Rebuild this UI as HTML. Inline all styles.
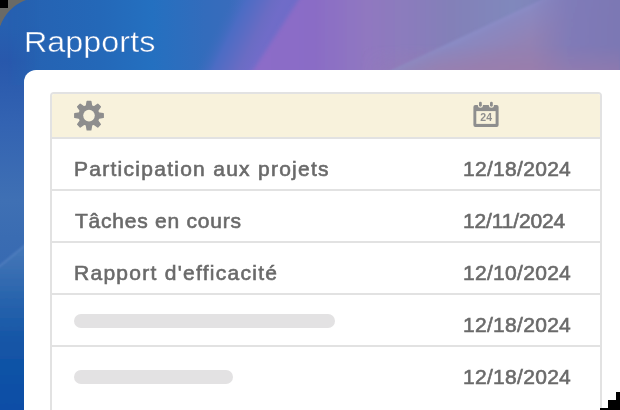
<!DOCTYPE html>
<html><head><meta charset="utf-8">
<style>
html,body{margin:0;padding:0;width:620px;height:410px;overflow:hidden;background:#6a6a66;position:relative;font-family:"Liberation Sans",sans-serif;}
#blk{position:absolute;left:0;top:0;width:8px;height:8px;background:#000;}
#title{position:absolute;left:24px;top:25.5px;color:#fff;-webkit-text-stroke:0.5px rgba(40,100,180,0.85);font-size:29.5px;line-height:32px;letter-spacing:0px;white-space:nowrap;transform:scaleX(1.097);transform-origin:0 0;}
#card{position:absolute;left:24px;top:70px;width:700px;height:400px;background:#fff;border-radius:12px;}
#tbl{position:absolute;left:50px;top:92px;width:548px;height:400px;border:2px solid #e2e2e2;border-radius:4px;background:#fff;}
#hdr{position:absolute;left:0;top:0;width:548px;height:43px;background:#f8f2dc;border-bottom:2px solid #e2e2e2;border-radius:2px 2px 0 0;}
.row{position:absolute;left:0;width:548px;height:50px;border-bottom:2px solid #e2e2e2;}
.txt{position:absolute;left:22px;top:18px;font-size:21px;font-weight:normal;-webkit-text-stroke:0.6px #6a6a6a;color:#6a6a6a;line-height:24px;letter-spacing:0.6px;white-space:nowrap;will-change:transform;}
.date{position:absolute;left:411px;top:18px;font-size:21px;font-weight:normal;-webkit-text-stroke:0.6px #6a6a6a;color:#6a6a6a;line-height:24px;letter-spacing:0.3px;white-space:nowrap;will-change:transform;}
.bar{position:absolute;left:22px;top:19px;height:14px;border-radius:7px;background:#e3e2e3;}
#stairs{position:absolute;left:0;top:0;}
</style></head><body>
<div id="blk"></div>
<svg id="bg" width="620" height="410" style="position:absolute;left:0;top:0">
<defs>
 <clipPath id="cp"><path d="M26 0H620V410H0V27A45 45 0 0 1 26 0Z"/></clipPath>
 <filter id="bl" x="-10%" y="-10%" width="120%" height="120%"><feGaussianBlur stdDeviation="2"/></filter>
 <filter id="bl2" x="-10%" y="-10%" width="120%" height="120%"><feGaussianBlur stdDeviation="0.8"/></filter>
 <linearGradient id="g1" gradientUnits="userSpaceOnUse" x1="0" y1="0" x2="620" y2="0">
  <stop offset="0" stop-color="#2660b0"/>
  <stop offset="0.16" stop-color="#2468b8"/>
  <stop offset="0.245" stop-color="#2470c0"/>
  <stop offset="0.33" stop-color="#336cbc"/>
  <stop offset="0.37" stop-color="#386cbc"/>
  <stop offset="0.5" stop-color="#6c70c8"/>
  <stop offset="1" stop-color="#6c70c8"/>
 </linearGradient>
 <linearGradient id="gA" gradientUnits="userSpaceOnUse" x1="184.1" y1="90.2" x2="238" y2="116.6">
  <stop offset="0" stop-color="#386cbc" stop-opacity="0"/>
  <stop offset="0.283" stop-color="#4c6cc4"/>
  <stop offset="0.467" stop-color="#5a6cc4"/>
  <stop offset="0.667" stop-color="#6a6cc4"/>
  <stop offset="0.833" stop-color="#706cc8"/>
  <stop offset="1" stop-color="#6e6cc8"/>
 </linearGradient>
 <linearGradient id="g2" gradientUnits="userSpaceOnUse" x1="260" y1="0" x2="620" y2="0">
  <stop offset="0" stop-color="#8c6cc8"/>
  <stop offset="0.15" stop-color="#8a6cc6"/>
  <stop offset="0.3" stop-color="#9078c0"/>
  <stop offset="0.42" stop-color="#8a7cbc"/>
  <stop offset="0.53" stop-color="#8380b8"/>
  <stop offset="0.7" stop-color="#8088bc"/>
  <stop offset="1" stop-color="#7e7ab8"/>
 </linearGradient>
 <linearGradient id="g3" gradientUnits="userSpaceOnUse" x1="466" y1="35" x2="490" y2="85">
  <stop offset="0" stop-color="#8a8cc6"/>
  <stop offset="0.12" stop-color="#8a88c0"/>
  <stop offset="0.6" stop-color="#9282b4"/>
  <stop offset="1" stop-color="#9480b0"/>
 </linearGradient>
 <linearGradient id="g3r" gradientUnits="userSpaceOnUse" x1="530" y1="0" x2="620" y2="0">
  <stop offset="0" stop-color="#7e7ab8" stop-opacity="0"/>
  <stop offset="0.45" stop-color="#7e7ab8" stop-opacity="0.9"/>
  <stop offset="1" stop-color="#7c78b4" stop-opacity="1"/>
 </linearGradient>
 <linearGradient id="gm" gradientUnits="userSpaceOnUse" x1="8" y1="0" x2="40" y2="0">
  <stop offset="0" stop-color="#fff"/><stop offset="1" stop-color="#000"/>
 </linearGradient>
 <linearGradient id="gm2" gradientUnits="userSpaceOnUse" x1="0" y1="40" x2="0" y2="80">
  <stop offset="0" stop-color="#000"/><stop offset="1" stop-color="#fff"/>
 </linearGradient>
 <mask id="mL" maskUnits="userSpaceOnUse" x="0" y="0" width="620" height="410"><rect x="0" y="0" width="40" height="85" fill="url(#gm)"/><rect x="0" y="85" width="24.5" height="325" fill="#fff"/></mask>
 <linearGradient id="gP" gradientUnits="userSpaceOnUse" x1="0" y1="45" x2="0" y2="70">
  <stop offset="0" stop-color="#a07ca8" stop-opacity="0"/>
  <stop offset="1" stop-color="#a07ca8" stop-opacity="0.45"/>
 </linearGradient>
 <linearGradient id="gPm" gradientUnits="userSpaceOnUse" x1="360" y1="0" x2="440" y2="0">
  <stop offset="0" stop-color="#000"/><stop offset="1" stop-color="#fff"/>
 </linearGradient>
 <mask id="mP" maskUnits="userSpaceOnUse" x="0" y="0" width="620" height="410"><rect x="0" y="0" width="620" height="80" fill="url(#gPm)"/></mask>
 <linearGradient id="gL" gradientUnits="userSpaceOnUse" x1="0" y1="0" x2="0" y2="410">
  <stop offset="0" stop-color="#2660b0"/>
  <stop offset="0.06" stop-color="#2660b0"/>
  <stop offset="0.15" stop-color="#2858ac"/>
  <stop offset="0.3" stop-color="#3363b2"/>
  <stop offset="0.49" stop-color="#3f70b4"/>
  <stop offset="0.58" stop-color="#3a6cb2"/>
  <stop offset="1" stop-color="#2a60b0"/>
 </linearGradient>
 <linearGradient id="gL2" gradientUnits="userSpaceOnUse" x1="0" y1="255" x2="0" y2="410">
  <stop offset="0" stop-color="#4274b6"/>
  <stop offset="0.25" stop-color="#2b66ae"/>
  <stop offset="0.57" stop-color="#1455a6"/>
  <stop offset="1" stop-color="#0a4ea6"/>
 </linearGradient>
</defs>
<g clip-path="url(#cp)">
 <rect x="0" y="0" width="620" height="410" fill="url(#g1)"/>
 <rect x="0" y="0" width="620" height="80" fill="url(#gA)"/>
 <rect x="0" y="0" width="40" height="410" fill="url(#gL)" mask="url(#mL)"/>
 <g filter="url(#bl)">
  <polygon points="305,-10 640,-10 640,90 240,90" fill="url(#g2)"/>
 </g>
 <g filter="url(#bl2)">
  <polygon points="562,-10 640,-10 640,90 349,90" fill="url(#g3)"/>
  <rect x="530" y="-10" width="110" height="100" fill="url(#g3r)"/>
  <rect x="300" y="40" width="340" height="40" fill="url(#gP)" mask="url(#mP)"/>
  <polygon points="-10,274 40,233 40,420 -10,420" fill="url(#gL2)"/>
  <line x1="-10" y1="274" x2="40" y2="233" stroke="#5a86c4" stroke-width="1.6" stroke-opacity="0.8"/>
 </g>
</g>
</svg>
<div id="title">Rapports</div>
<div id="card"></div>
<div id="tbl">
  <div id="hdr">
    <svg style="position:absolute;left:21px;top:6px" width="32" height="32" viewBox="0 0 32 32">
      <g fill="#8e8e8e" stroke="#8e8e8e" stroke-width="1.4" stroke-linejoin="round" transform="translate(16 15.6)">
        <circle r="10.6" stroke="none"/>
        <polygon points="-2.7,-9 2.7,-9 1.8,-14.2 -1.8,-14.2"/>
        <polygon points="-2.7,-9 2.7,-9 1.8,-14.2 -1.8,-14.2" transform="rotate(45)"/>
        <polygon points="-2.7,-9 2.7,-9 1.8,-14.2 -1.8,-14.2" transform="rotate(90)"/>
        <polygon points="-2.7,-9 2.7,-9 1.8,-14.2 -1.8,-14.2" transform="rotate(135)"/>
        <polygon points="-2.7,-9 2.7,-9 1.8,-14.2 -1.8,-14.2" transform="rotate(180)"/>
        <polygon points="-2.7,-9 2.7,-9 1.8,-14.2 -1.8,-14.2" transform="rotate(225)"/>
        <polygon points="-2.7,-9 2.7,-9 1.8,-14.2 -1.8,-14.2" transform="rotate(270)"/>
        <polygon points="-2.7,-9 2.7,-9 1.8,-14.2 -1.8,-14.2" transform="rotate(315)"/>
      </g>
      <circle cx="16" cy="15.6" r="5.8" fill="#f8f2dc"/>
    </svg>
    <svg style="position:absolute;left:419px;top:6px;will-change:transform" width="30" height="30" viewBox="0 0 30 30">
      <rect x="2.4" y="5.1" width="25.2" height="21.9" rx="2" fill="#8e8e8e"/>
      <rect x="5.3" y="11.1" width="19.3" height="12.8" fill="#f8f2dc"/>
      <rect x="6.9" y="-3" width="5" height="10.7" rx="2.5" fill="#f8f2dc"/>
      <rect x="17.9" y="-3" width="5" height="10.7" rx="2.5" fill="#f8f2dc"/>
      <rect x="8" y="1.7" width="2.8" height="5" rx="1.4" fill="#8e8e8e"/>
      <rect x="19" y="1.7" width="2.8" height="5" rx="1.4" fill="#8e8e8e"/>
      <text x="15.15" y="20.8" font-family="Liberation Sans" font-weight="bold" font-size="10.5" fill="#8e8e8e" text-anchor="middle">24</text>
    </svg>
  </div>
  <div class="row" style="top:45px"><div class="txt" style="letter-spacing:1.27px">Participation aux projets</div><div class="date">12/18/2024</div></div>
  <div class="row" style="top:97px"><div class="txt" style="letter-spacing:0.76px;left:23px">Tâches en cours</div><div class="date" style="letter-spacing:-0.15px">12/11/2024</div></div>
  <div class="row" style="top:149px"><div class="txt" style="letter-spacing:1.28px">Rapport d'efficacité</div><div class="date">12/10/2024</div></div>
  <div class="row" style="top:201px"><div class="bar" style="width:261px"></div><div class="date">12/18/2024</div></div>
  <div class="row" style="top:253px;border-bottom:none"><div class="bar" style="width:159px;top:23px"></div><div class="date">12/18/2024</div></div>
</div>
<svg id="stairs" width="620" height="410" style="position:absolute;left:0;top:0">
  <path d="M616 392H620V410H600V408H608V400H616Z" fill="#000"/>
</svg>
</body></html>
